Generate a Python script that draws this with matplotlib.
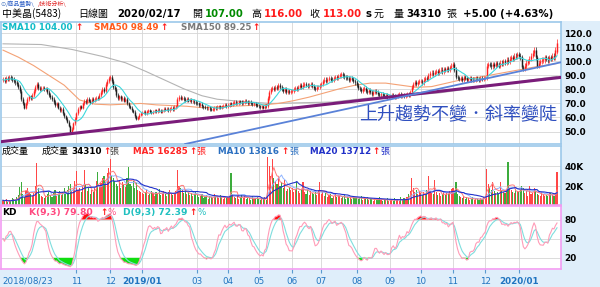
import numpy as np
import pandas as pd
import matplotlib
matplotlib.use("Agg")
import matplotlib.pyplot as plt
from matplotlib.patches import Rectangle
from matplotlib.transforms import blended_transform_factory

# ---------------- data ----------------
month_keys = ["2018/08", "2018/09", "2018/10", "2018/11", "2018/12",
              "2019/01", "2019/02", "2019/03", "2019/04", "2019/05", "2019/06",
              "2019/07", "2019/08", "2019/09", "2019/10", "2019/11", "2019/12",
              "2020/01", "2020/02"]

close_2018_08 = [87, 86, 88, 87.5, 88.5, 88, 87]
close_2018_09 = [86, 85, 84, 82, 79, 73, 70, 67, 70, 73, 75, 74, 76, 79, 82, 84, 81, 80, 81]
close_2018_10 = [81, 80, 80.5, 78, 76, 74.5, 73, 71, 69, 70, 67, 65, 66, 63, 61, 59, 57, 54, 50, 52, 56, 59]
close_2018_11 = [63, 66, 68, 67, 70, 72, 71, 73, 72, 71, 73, 72.5, 73, 74, 73.5, 76, 78, 80, 79, 84, 86, 88]
close_2018_12 = [89, 86, 82, 80, 76, 74, 75, 73, 74, 72, 73, 70, 68, 67, 65, 64, 61, 59, 60, 62, 63]
close_2019_01 = [63.5, 64, 63, 64.5, 65, 64, 63.5, 64, 65, 64.5, 65.5, 65, 64, 65, 66, 65.5, 66, 65, 66.5, 67, 66, 67.5]
close_2019_02 = [68, 73, 74.5, 73.5, 74, 73, 72.5, 73, 72, 72.5, 71.5, 72, 71, 70.5]
close_2019_03 = [70, 69, 69.5, 68, 67.5, 67, 66.5, 67, 66, 65.5, 66, 67, 66.5, 67.5, 68, 67, 68, 68.5, 69, 68]
close_2019_04 = [69, 70, 69.5, 70.5, 71, 70, 70.5, 71.5, 71, 70, 71, 72, 71.5, 70.5, 71, 70, 69.5, 70, 69, 68.5]
close_2019_05 = [68, 67.5, 68, 67, 68.5, 68, 74, 78, 80, 81, 80, 82, 81, 83, 82, 80, 79, 80, 78, 79, 78, 79]
close_2019_06 = [79, 80, 81, 80.5, 82, 83, 82, 83.5, 84, 83, 82.5, 83, 84, 82.5, 81, 80, 81.5, 82, 83]
close_2019_07 = [84, 86, 87, 86, 87.5, 88, 87, 86.5, 88, 89, 88, 89.5, 90, 91, 90, 89, 88.5, 88, 87, 88, 87.5, 86, 85]
close_2019_08 = [83, 81, 80, 79, 80, 81, 79, 78, 79.5, 78, 77, 78.5, 79, 78, 77, 76, 77, 76, 75, 76, 74.5, 75]
close_2019_09 = [75, 76, 75.5, 74.5, 75, 76, 76.5, 75, 76, 75.5, 76, 77, 76, 78, 82, 84, 85, 84, 85.5, 86]
close_2019_10 = [86, 85, 87, 88, 87.5, 90, 91.5, 92, 91, 92.5, 93, 92, 93.5, 94, 93, 94.5, 94, 95, 94, 96, 97]
close_2019_11 = [98, 94, 89, 88, 87.5, 88, 87, 88.5, 88, 87, 87.5, 88, 87, 86.5, 87, 88, 87.5, 87, 88, 87.5, 88]
close_2019_12 = [88, 97, 98, 97.5, 96.5, 98, 97, 98.5, 98, 97, 99, 98.5, 100, 99.5, 101, 100, 102, 103, 102, 104, 103.5, 105]
close_2020_01 = [104, 103, 96, 95, 97, 99, 100, 102, 104, 106, 108, 103, 97, 99, 100]
close_2020_02 = [101, 101, 103, 102, 101, 103, 102, 104, 103, 108, 113]

vol_2018_08 = [6, 5, 7, 4, 6, 5, 8]
vol_2018_09 = [7, 6, 9, 11, 19, 24, 12, 9, 15, 18, 14, 12, 10, 13, 20, 43, 18, 12, 10]
vol_2018_10 = [9, 8, 10, 12, 14, 11, 9, 13, 16, 10, 12, 15, 11, 14, 18, 13, 16, 20, 22, 15, 17, 25]
vol_2018_11 = [35, 16, 18, 14, 20, 36, 22, 15, 18, 12, 16, 14, 19, 25, 34, 20, 23, 28, 30, 24, 33, 38]
vol_2018_12 = [47, 30, 28, 25, 22, 20, 26, 18, 24, 21, 19, 28, 39, 22, 20, 25, 18, 23, 16, 15, 14]
vol_2019_01 = [13, 12, 14, 16, 11, 12, 15, 13, 10, 14, 12, 17, 11, 13, 15, 12, 10, 14, 16, 12, 11, 13]
vol_2019_02 = [15, 36, 20, 18, 16, 13, 15, 12, 14, 11, 13, 10, 12, 14]
vol_2019_03 = [11, 9, 10, 12, 8, 9, 11, 7, 10, 9, 8, 12, 9, 10, 8, 11, 9, 7, 10, 8]
vol_2019_04 = [9, 10, 33, 12, 9, 8, 10, 7, 9, 11, 8, 10, 7, 9, 8, 6, 10, 7, 8, 9]
vol_2019_05 = [7, 6, 8, 7, 9, 6, 49, 40, 30, 47, 28, 25, 22, 28, 20, 24, 18, 26, 15, 17, 19, 16]
vol_2019_06 = [18, 14, 16, 24, 15, 13, 17, 24, 14, 12, 16, 11, 15, 13, 12, 14, 11, 16, 24]
vol_2019_07 = [12, 14, 10, 13, 9, 11, 12, 8, 10, 13, 9, 11, 10, 8, 9, 11, 7, 10, 8, 9, 7, 10, 8]
vol_2019_08 = [9, 7, 8, 10, 6, 8, 7, 9, 6, 8, 7, 5, 8, 6, 7, 9, 6, 5, 7, 6, 8, 5]
vol_2019_09 = [6, 7, 5, 8, 6, 7, 5, 9, 6, 8, 7, 9, 12, 15, 28, 18, 14, 16, 12, 15]
vol_2019_10 = [13, 11, 14, 12, 16, 30, 15, 13, 12, 26, 14, 11, 13, 10, 12, 14, 11, 13, 12, 15, 17]
vol_2019_11 = [18, 14, 24, 12, 10, 9, 8, 10, 7, 9, 8, 6, 7, 9, 6, 8, 7, 6, 8, 7, 9]
vol_2019_12 = [10, 37, 22, 18, 16, 24, 15, 13, 14, 12, 24, 16, 14, 13, 15, 44, 18, 16, 14, 13, 17, 15]
vol_2020_01 = [14, 16, 20, 18, 13, 15, 10, 20, 12, 13, 18, 15, 12, 11, 10]
vol_2020_02 = [14, 12, 10, 11, 10, 13, 13, 11, 10, 13.1, 34.31]

last_open, last_high, last_close = 107.0, 116.0, 113.0
wick_pct = 0.018   # typical intraday shadow length, relative to price

sma50_day = [0, 10, 20, 30, 40, 50, 60, 70, 80, 90, 100, 110, 120, 130, 140, 150, 160, 170, 180,
             190, 200, 210, 220, 230, 240, 250, 260, 270, 280, 290, 300, 310, 320, 330, 340, 350, 362]
sma50_val = [108, 103, 97, 90, 83, 72.5, 69.5, 69, 69.5, 70, 69, 68.5, 68, 67, 67.5, 68, 68.5, 69, 70,
             72, 74.5, 77.5, 80.5, 83, 84.5, 84.5, 83, 81.5, 82, 84.5, 87, 88.5, 90.5, 92.5, 94.5, 96.5, 98.49]
sma150_day = [0, 25, 45, 65, 80, 93, 105, 118, 130, 140, 155, 175, 195, 215, 240, 260, 285, 305, 325, 340, 350, 362]
sma150_val = [112.5, 112, 108.5, 103.5, 99, 93, 87, 80.5, 75.5, 73, 71.5, 70, 70.5, 71, 74, 75.5, 77.5,
              80.5, 83.5, 86, 87.5, 89.25]

trend_purple = [(43.8, 48.4), (364.7, 88.6)]
trend_blue = [(194.1, 58.9), (364.0, 99.2)]

price_ticks = [50, 60, 70, 80, 90, 100, 110, 120]
vol_ticks = [20, 40]
kd_ticks = [20, 50, 80]

label_months = ["2018/11", "2018/12", "2019/01", "2019/03", "2019/04", "2019/05", "2019/06",
                "2019/07", "2019/08", "2019/09", "2019/10", "2019/11", "2019/12", "2020/01"]
label_texts = ["11", "12", "2019/01", "03", "04", "05", "06", "07", "08", "09", "10", "11", "12", "2020/01"]
first_label = "2018/08/23"

# ---------------- derived series ----------------
close_by_month = [close_2018_08, close_2018_09, close_2018_10, close_2018_11, close_2018_12,
                  close_2019_01, close_2019_02, close_2019_03, close_2019_04, close_2019_05,
                  close_2019_06, close_2019_07, close_2019_08, close_2019_09, close_2019_10,
                  close_2019_11, close_2019_12, close_2020_01, close_2020_02]
vol_by_month = [vol_2018_08, vol_2018_09, vol_2018_10, vol_2018_11, vol_2018_12,
                vol_2019_01, vol_2019_02, vol_2019_03, vol_2019_04, vol_2019_05,
                vol_2019_06, vol_2019_07, vol_2019_08, vol_2019_09, vol_2019_10,
                vol_2019_11, vol_2019_12, vol_2020_01, vol_2020_02]

close = np.array(sum(close_by_month, []), float)
vol = np.array(sum(vol_by_month, []), float)
n = len(close)
idx = np.arange(n)
month_start = np.cumsum([0] + [len(m) for m in close_by_month[:-1]])
start_of = dict(zip(month_keys, month_start))
grid_x = [start_of[m] for m in label_months]

opn = np.empty(n)
opn[0] = close[0]
opn[1:] = close[:-1]
opn[-1] = last_open
up = close >= opn
prev = np.r_[close[0], close[:-1]]
vup = close >= prev
body_lo = np.minimum(opn, close)
body_hi = np.maximum(opn, close)
high = body_hi * (1 + wick_pct)
low = body_lo * (1 - wick_pct)
high[-1] = last_high

s = pd.Series(close)
sma10 = s.rolling(10, min_periods=1).mean()
hh = pd.Series(high).rolling(9, min_periods=1).max()
ll = pd.Series(low).rolling(9, min_periods=1).min()
rsv = np.where(hh > ll, (s - ll) / (hh - ll) * 100, 50)
K = np.empty(n)
D = np.empty(n)
k = d = 50.0
for i, r in enumerate(rsv):
    k = 2 / 3 * k + r / 3
    d = 2 / 3 * d + k / 3
    K[i], D[i] = k, d

vs = pd.Series(vol)
vma5 = vs.rolling(5, min_periods=1).mean()
vma10 = vs.rolling(10, min_periods=1).mean()
vma20 = vs.rolling(20, min_periods=1).mean()

# ---------------- figure ----------------
W, H = 600.0, 287.0
fig = plt.figure(figsize=(6.0, 2.87), dpi=100)
fig.patch.set_facecolor("white")


def fx(x):
    return x / W


def fy(y):
    return 1 - y / H


LB = "#dfeefa"
fig.add_artist(Rectangle((fx(561), 0), 1 - fx(561), fy(21), facecolor=LB, edgecolor="none", zorder=0))
fig.add_artist(Rectangle((0, 0), 1, fy(270), facecolor=LB, edgecolor="none", zorder=0))

XL = (-1.31, 364.6)
ax1 = fig.add_axes([fx(1), fy(144), fx(561) - fx(1), fy(22) - fy(144)])
ax2 = fig.add_axes([fx(1), fy(205), fx(561) - fx(1), fy(146) - fy(205)])
ax3 = fig.add_axes([fx(1), fy(269), fx(561) - fx(1), fy(206) - fy(269)])

GRID = "#d6d6d6"
for ax in (ax1, ax2, ax3):
    ax.set_facecolor("white")
    ax.set_xlim(*XL)
    ax.set_xticks(grid_x)
    ax.grid(True, color=GRID, lw=0.6)
    ax.set_axisbelow(True)
    ax.yaxis.tick_right()
    ax.tick_params(axis="y", length=0, pad=2.5, labelsize=6.4)
    ax.tick_params(axis="x", labelbottom=False, length=0)
for ax in (ax1, ax2):
    for sp in ax.spines.values():
        sp.set_color("#9cc8ea")
        sp.set_linewidth(1.2)
for sp in ax3.spines.values():
    sp.set_color("#f29cf2")
    sp.set_linewidth(1.2)
ax2.spines["bottom"].set_color("#f29cf2")
ax3.tick_params(axis="x", length=3, color="#5a9ad0", width=0.8)

# price panel
ax1.set_ylim(41.1, 128.05)
ax1.set_yticks(price_ticks)
ax1.set_yticklabels([f"{v:.1f}" for v in price_ticks], fontweight="bold")
ccol = np.where(up, "#ff2020", "#1e1e1e")
ax1.vlines(idx, low, high, colors=ccol, lw=0.5, zorder=3)
ax1.vlines(idx, body_lo, np.maximum(body_hi, body_lo + 0.35), colors=ccol, lw=1.05, zorder=3)
ax1.plot(sma150_day, sma150_val, color="#b4b4b4", lw=0.8, zorder=2)
ax1.plot(sma50_day, sma50_val, color="#f4a276", lw=0.8, zorder=2)
ax1.plot(idx, sma10, color="#3cd8dc", lw=0.8, zorder=4)
ax1.axline(trend_purple[0], trend_purple[1], color="#7a1c7a", lw=2.2, zorder=5)
ax1.axline(trend_blue[0], trend_blue[1], color="#5a82d8", lw=1.3, zorder=5)

# volume panel
ax2.set_ylim(1.3, 60.3)
ax2.set_yticks(vol_ticks)
ax2.set_yticklabels([f"{v}K" for v in vol_ticks], fontweight="bold")
ax2.bar(idx, vol, width=0.72, color=np.where(vup, "#ff4646", "#3cac3c"), linewidth=0, zorder=2)
ax2.plot(idx, vma10, color="#8fb4ff", lw=0.7, zorder=3)
ax2.plot(idx, vma5, color="#ff7a7a", lw=0.7, zorder=3)
ax2.plot(idx, vma20, color="#2232cc", lw=0.8, zorder=4)

# KD panel
ax3.set_ylim(2.4, 101.2)
ax3.set_yticks(kd_ticks)
ax3.set_yticklabels([str(v) for v in kd_ticks], fontweight="bold")
ax3.fill_between(idx, K, 20, where=K < 20, interpolate=True, color="#10dd10", lw=0, zorder=2)
ax3.fill_between(idx, K, 80, where=K > 80, interpolate=True, color="#ff1010", lw=0, zorder=2)
ax3.plot(idx, D, color="#7fdede", lw=0.8, zorder=3)
ax3.plot(idx, K, color="#ff9cb8", lw=0.8, zorder=3)

# x labels
tr = blended_transform_factory(ax3.transData, fig.transFigure)
ax3.text(-0.2, fy(281), first_label, transform=tr, ha="left", va="center",
         fontsize=6.3, color="#1f74c0", clip_on=False)
for gx, t in zip(grid_x, label_texts):
    ax3.text(gx, fy(281), t, transform=tr, ha="center", va="center", fontsize=6.3,
             color="#1f74c0", fontweight="bold" if "/" in t else "normal", clip_on=False)

# ---------------- texts ----------------
CJK = ["Noto Sans CJK TC", "DejaVu Sans"]
LAT = ["DejaVu Sans"]


def T(x, y, s_, color="black", size=6.3, weight="bold", fam=LAT, ha="left"):
    fig.text(fx(x), fy(y), s_, color=color, fontsize=size, fontweight=weight,
             fontfamily=fam, ha=ha, va="center", zorder=10)


RED = "#ff1a1a"
# tabs
T(0.5, 4, "⊙", "#4a78c0", 4.5, "normal")
T(6, 4, "/商品盤勢\\", "#2a5cc4", 4.3, "normal", CJK)
T(38, 4, "/技術分析\\", "#e02828", 4.3, "normal", CJK)
# header
T(2, 14, "中美晶(5483)", "black", 7.2, "normal", CJK)
T(78, 14, "日線圖", "black", 7.2, "normal", CJK)
T(117, 14, "2020/02/17", "black", 7.3)
T(192, 14, "開", "black", 7.2, "normal", CJK)
T(205, 14, "107.00", "#008a00", 7.3)
T(251, 14, "高", "black", 7.2, "normal", CJK)
T(264, 14, "116.00", RED, 7.3)
T(309, 14, "收", "black", 7.2, "normal", CJK)
T(323, 14, "113.00", RED, 7.3)
T(366, 14, "s", "black", 7.3)
T(374, 14, "元", "black", 7.2, "normal", CJK)
T(394, 14, "量", "black", 7.2, "normal", CJK)
T(406, 14, "34310", "black", 7.3)
T(446, 14, "張", "black", 7.2, "normal", CJK)
T(463, 14, "+5.00 (+4.63%)", "black", 7.3)
# SMA legend
T(1.5, 27.5, "SMA10 104.00", "#12bcc8")
T(75, 27.5, "↑", RED, 6.3)
T(94, 27.5, "SMA50 98.49", "#ff5a1a")
T(160, 27.5, "↑", RED, 6.3)
T(181, 27.5, "SMA150 89.25", "#7a7a7a")
T(252, 27.5, "↑", RED, 6.3)
# volume legend
T(2, 151.5, "成交量", "black", 6.5, "normal", CJK)
T(42, 151.5, "成交量", "black", 6.5, "normal", CJK)
T(71, 151.5, "34310", "black")
T(103, 151.5, "↑", RED)
T(109, 151.5, "張", "#404040", 6.5, "normal", CJK)
T(133, 151.5, "MA5 16285", "#ff2424")
T(189, 151.5, "↑", RED)
T(196, 151.5, "張", "#ff2424", 6.5, "normal", CJK)
T(218, 151.5, "MA10 13816", "#2a6fc0")
T(281, 151.5, "↑", RED)
T(289, 151.5, "張", "#2a6fc0", 6.5, "normal", CJK)
T(310, 151.5, "MA20 13712", "#2030c8")
T(372, 151.5, "↑", RED)
T(380, 151.5, "張", "#2030c8", 6.5, "normal", CJK)
# KD legend
T(2, 212.5, "KD", "black", 6.5)
T(29, 212.5, "K(9,3) 79.80", "#ff4a80", 6.6)
T(100, 212.5, "↑", RED)
T(107, 212.5, "%", "#ff4a80", 6.3, "normal")
T(123, 212.5, "D(9,3) 72.39", "#20c0c0", 6.6)
T(189, 212.5, "↑", RED)
T(197, 212.5, "%", "#20c0c0", 6.3, "normal")
# annotation
T(458, 115, "上升趨勢不變．斜率變陡", "#2f4fbf", 13, "normal", CJK, ha="center")

fig.savefig("out.png", dpi=100)
